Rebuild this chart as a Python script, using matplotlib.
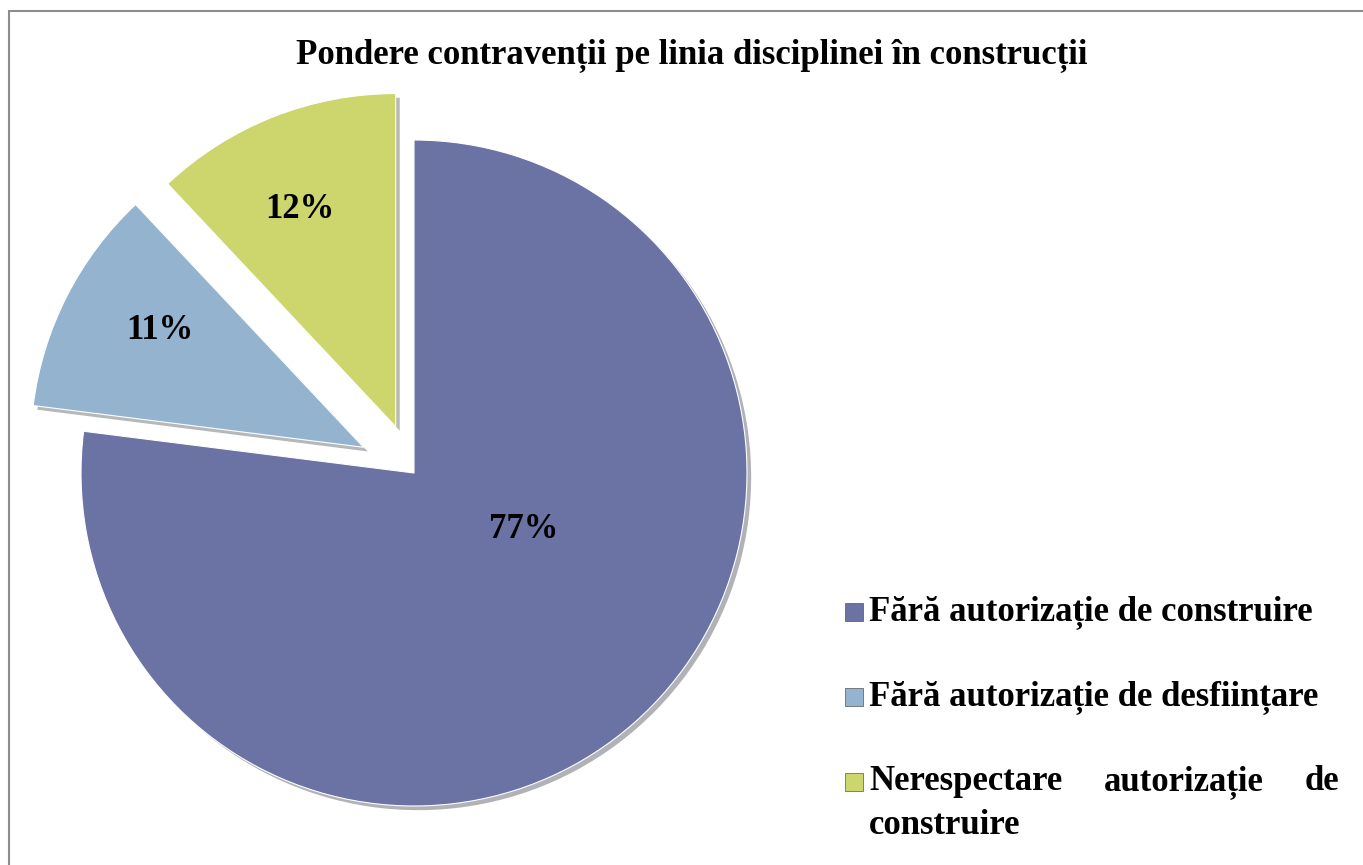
import matplotlib.pyplot as plt
import matplotlib.patheffects as pe
from matplotlib.patches import Rectangle

# data
categories = ['Fără autorizație de construire',
              'Fără autorizație de desființare',
              'Nerespectare autorizație de construire']
shares = [77, 11, 12]
colors = ['#6a73a3', '#93b3cf', '#ccd66c']
explode = [0, 0.17, 0.15]
title = 'Pondere contravenții pe linia disciplinei în construcții'

plt.rcParams['font.family'] = ['Liberation Serif', 'DejaVu Serif']

W, H = 1363, 865
fig = plt.figure(figsize=(W / 100, H / 100), dpi=100)

# axes covering the whole figure, scaled so the pie sits where it does in the original
cx, cy, R = 414, 473, 333
ax = fig.add_axes([0, 0, 1, 1])

wedges = ax.pie(shares, colors=colors, startangle=90, counterclock=False,
                explode=explode, radius=1.0,
                wedgeprops=dict(linewidth=0.8, edgecolor='#ffffff'))[0]
for w in wedges:
    w.set_path_effects([pe.SimplePatchShadow(offset=(3, -3), alpha=0.35), pe.Normal()])

ax.set_aspect('auto')
ax.set_xlim((0 - cx) / R, (W - cx) / R)
ax.set_ylim((cy - H) / R, cy / R)
ax.axis('off')

# percentage labels
label_pos = [(0.33, -0.171), (-0.763, 0.429), (-0.342, 0.790)]
for (x, y), s in zip(label_pos, shares):
    ax.text(x, y, f'{s}%', ha='center', va='center', fontsize=25,
            fontweight='bold', color='black')

fig.text(692 / W, 1 - 55 / H, title, ha='center', va='center',
         fontsize=25, fontweight='bold')

# legend drawn by hand (justified last entry as in the original)
leg_fs = 25
rows = [612, 697, 782]
for y, col in zip(rows, colors):
    fig.patches.append(Rectangle((845 / W, 1 - (y + 9) / H), 18 / W, 18 / H,
                                 transform=fig.transFigure, facecolor=col,
                                 edgecolor='#555555', linewidth=0.5))
fig.text(869 / W, 1 - rows[0] / H, categories[0], ha='left', va='center',
         fontsize=leg_fs, fontweight='bold')
fig.text(869 / W, 1 - rows[1] / H, categories[1], ha='left', va='center',
         fontsize=leg_fs, fontweight='bold')
words = categories[2].split()
fig.text(869 / W, 1 - rows[2] / H, words[0], ha='left', va='center',
         fontsize=leg_fs, fontweight='bold')
fig.text(1184 / W, 1 - rows[2] / H, words[1], ha='center', va='center',
         fontsize=leg_fs, fontweight='bold')
fig.text(1339 / W, 1 - rows[2] / H, words[2], ha='right', va='center',
         fontsize=leg_fs, fontweight='bold')
fig.text(869 / W, 1 - 825 / H, words[3], ha='left', va='center',
         fontsize=leg_fs, fontweight='bold')

# outer frame (only top and left edges are visible in the original)
fig.patches.append(Rectangle((9 / W, -0.01), 1.02, 1 - 11 / H + 0.01,
                             transform=fig.transFigure, fill=False,
                             edgecolor='#8c8c8c', linewidth=1.5))

fig.savefig('out.png', dpi=100)
